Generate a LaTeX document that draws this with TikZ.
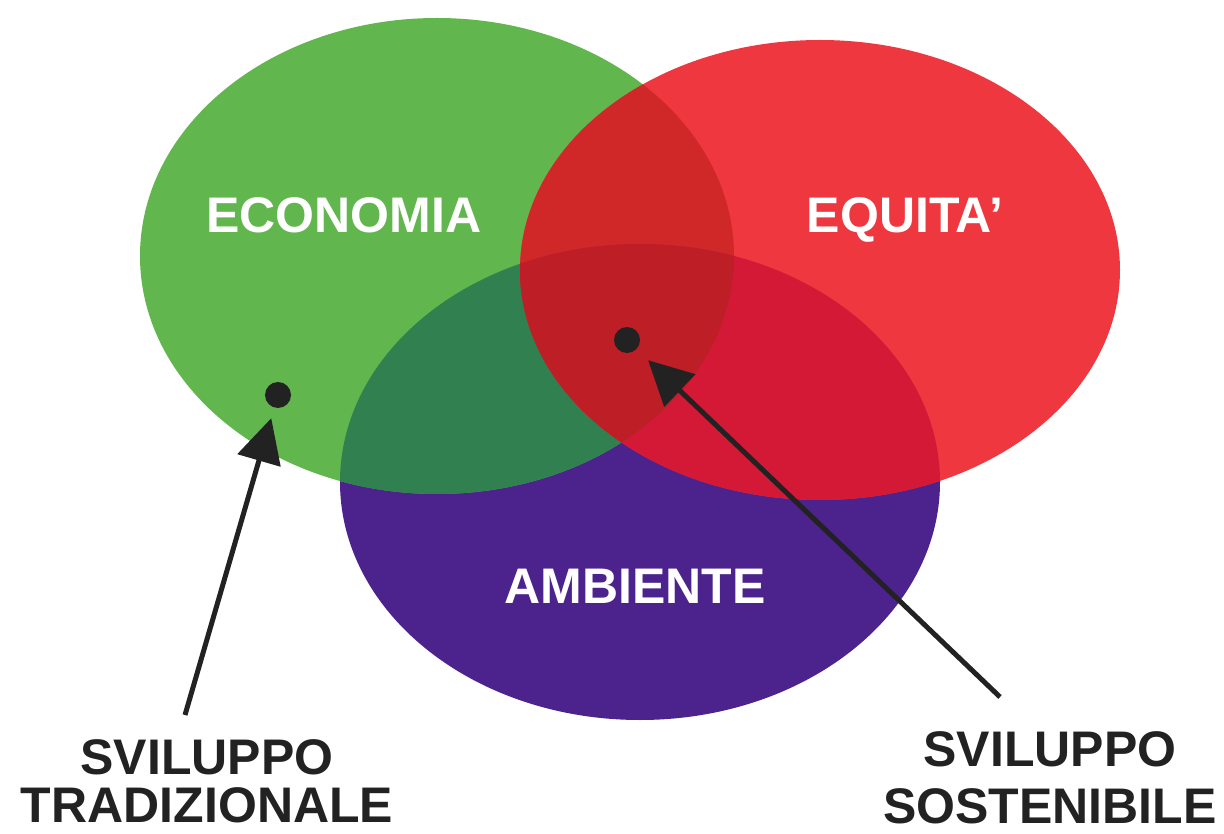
\documentclass[tikz,border=0pt]{standalone}
\usepackage{fontspec}
\setmainfont{Liberation Sans}
\usetikzlibrary{arrows.meta}

\definecolor{ecoGreen}{RGB}{98,182,78}
\definecolor{equRed}{RGB}{238,55,62}
\definecolor{ambBlue}{RGB}{76,34,140}
\definecolor{ecoAmb}{RGB}{48,128,80}
\definecolor{ecoEqu}{RGB}{208,40,40}
\definecolor{equAmb}{RGB}{212,25,55}
\definecolor{allThree}{RGB}{190,30,38}
\definecolor{inkDark}{RGB}{34,34,34}

\newcommand{\ecoShape}{(437,256) ellipse [x radius=297pt, y radius=238pt]}
\newcommand{\equShape}{(820,270) ellipse [x radius=300pt, y radius=230pt]}
\newcommand{\ambShape}{(640,482) ellipse [x radius=300pt, y radius=238pt]}

\tikzset{
  inlabel/.style={text=white, font=\fontsize{50}{54}\selectfont\bfseries, inner sep=0pt, anchor=base},
  outlabel/.style={text=inkDark, font=\fontsize{50}{48}\selectfont\bfseries, inner sep=0pt, anchor=north, align=center},
  dot/.style={circle, fill=inkDark, minimum size=26pt, inner sep=0pt},
  pointer/.style={-{Triangle[length=44pt,width=44pt]}, line width=5pt, draw=inkDark}
}

\begin{document}
\begin{tikzpicture}[x=1pt,y=-1pt]
  \useasboundingbox (0,0) rectangle (1224,834);
  % the three sets
  \fill[ambBlue] \ambShape;
  \fill[ecoGreen] \ecoShape;
  \fill[equRed] \equShape;
  % overlaps
  \begin{scope}
    \clip \ecoShape;
    \fill[ecoAmb] \ambShape;
  \end{scope}
  \begin{scope}
    \clip \ecoShape;
    \fill[ecoEqu] \equShape;
  \end{scope}
  \begin{scope}
    \clip \equShape;
    \fill[equAmb] \ambShape;
  \end{scope}
  \begin{scope}
    \clip \ecoShape;
    \clip \equShape;
    \fill[allThree] \ambShape;
  \end{scope}

  \node[inlabel] (eco) at (344,233) {ECONOMIA};
  \node[inlabel] (equ) at (905,233) {EQUITA'};
  \node[inlabel] (amb) at (635,603) {AMBIENTE};

  \node[dot] (tradDot) at (278,395) {};
  \node[dot] (sostDot) at (627,340) {};

  \node[outlabel] (trad) at (207,739) {SVILUPPO\\TRADIZIONALE};
  \node[outlabel] (sost) at (1050,731) {SVILUPPO\\[9pt]SOSTENIBILE};

  \coordinate (tradTail) at (185,715);
  \coordinate (sostTail) at (1000,697);
  \draw[pointer, shorten >=11pt] (tradTail) -- (tradDot);
  \draw[pointer, shorten >=16pt] (sostTail) -- (sostDot);
\end{tikzpicture}
\end{document}
